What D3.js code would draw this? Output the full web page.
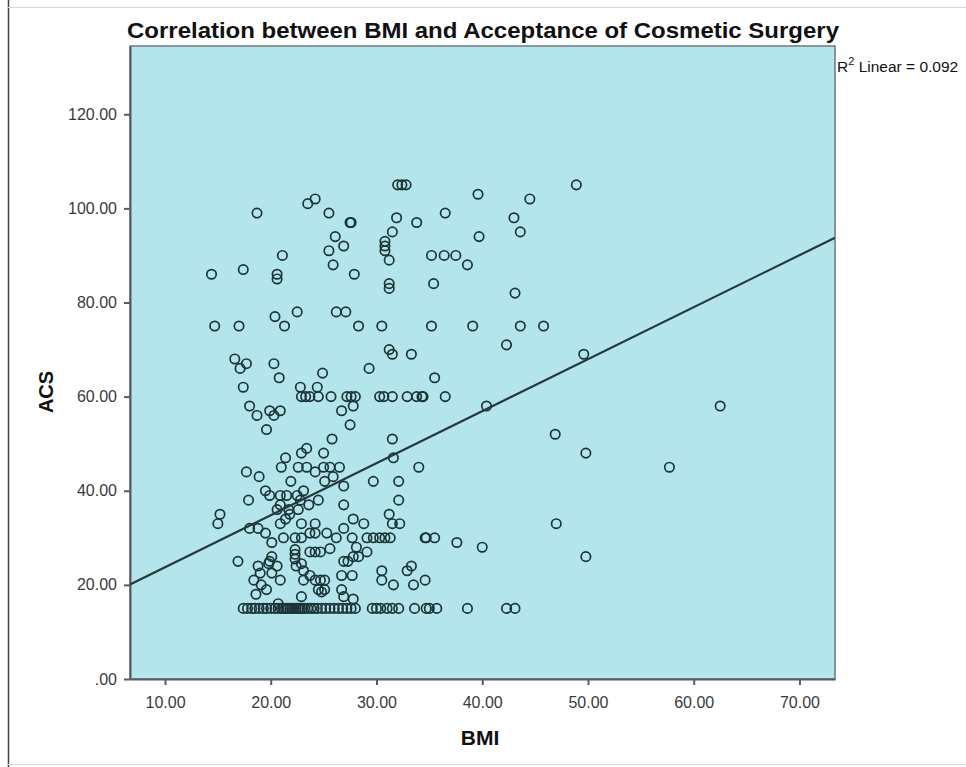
<!DOCTYPE html>
<html>
<head>
<meta charset="utf-8">
<script src="https://cdn.jsdelivr.net/npm/d3@7"></script>
<style>
  html, body { margin: 0; padding: 0; background: #ffffff; }
  svg { display: block; }
  text { font-family: "Liberation Sans", Arial, sans-serif; }
</style>
</head>
<body>
<svg id="chart" width="966" height="767"></svg>
<script>
// ---------------- data ----------------
const chartTitle = "Correlation between BMI and Acceptance of Cosmetic Surgery";
const xLabel = "BMI";
const yLabel = "ACS";

const xTicks = [10, 20, 30, 40, 50, 60, 70];
const xTickLabels = ["10.00", "20.00", "30.00", "40.00", "50.00", "60.00", "70.00"];
const yTicks = [0, 20, 40, 60, 80, 100, 120];
const yTickLabels = [".00", "20.00", "40.00", "60.00", "80.00", "100.00", "120.00"];

const xDomain = [6.69, 73.36];
const yDomain = [0, 134.5];

// fitted linear line (intercept, slope) and its R²
const fitIntercept = 12.7;
const fitSlope = 1.105;
const r2Value = "0.092";

// BMI values of the cases
const bmi = [
  // upper region
  18.7, 23.5, 24.2, 25.5, 27.5, 27.6, 32.0, 32.4, 32.8, 31.9, 33.8, 31.5, 30.8, 30.8, 30.8, 31.2,
  26.1, 26.9, 25.5, 21.1, 25.9, 14.4, 17.4, 20.6, 20.6, 27.9, 31.2, 31.2, 22.5, 20.4, 21.3, 14.7,
  17.0, 26.2, 27.1, 28.3, 30.5, 31.2, 31.5, 33.3, 16.6, 17.7, 17.1, 20.3, 20.8, 17.4, 24.9, 29.3,
  22.8, 24.4,
  // row at 60
  22.9, 23.3, 23.7, 24.5, 25.7, 27.2, 27.6, 28.0, 30.3, 30.7, 31.5, 32.9, 33.8, 34.3, 34.4, 36.5,
  18.0, 19.9, 20.9, 26.7, 27.8, 18.7, 20.3, 19.6, 27.5, 25.8, 31.5,
  // right side
  36.5, 39.6, 44.5, 48.9, 43.0, 43.6, 39.7, 35.2, 36.4, 37.5, 38.6, 35.4, 43.1, 35.2, 39.1, 43.6,
  45.8, 42.3, 49.6, 35.5, 40.4, 46.9, 49.8, 34.0, 47.0, 34.6, 34.7, 35.5, 37.6, 40.0, 49.8, 34.6,
  57.7, 62.5,
  // middle cluster
  17.7, 18.9, 21.9, 26.9, 29.7, 32.1, 23.4, 22.9, 25.0, 21.4, 31.6, 21.0, 22.6, 23.4, 24.2, 25.0,
  25.6, 26.5, 25.9, 25.1, 19.5, 19.9, 20.9, 21.5, 22.5, 23.1, 22.8, 23.6, 24.5, 17.9, 20.9, 21.7,
  22.6, 20.6, 26.9, 32.1, 15.2, 15.0, 31.2, 31.5, 32.2, 21.8, 21.4, 22.9, 18.0, 18.8, 19.5, 20.1,
  20.9, 24.2, 24.2, 27.8, 28.8, 21.2, 22.3, 22.9, 23.7, 25.3, 26.2, 26.9, 27.7, 29.1, 29.7, 30.3,
  30.8, 31.3, 16.9, 18.8, 19.8, 20.6, 20.1, 19.0, 18.4, 19.1, 19.6, 20.9, 20.1, 19.9, 22.3, 22.3,
  22.3, 22.4, 23.7, 24.2, 24.7, 22.9, 23.1, 23.7, 23.1, 24.2, 24.7, 25.1, 24.5, 25.1, 26.9, 27.8,
  28.1, 29.1, 27.7, 26.7, 26.7, 26.9, 30.5, 30.5, 31.6, 32.9, 33.3, 33.5, 20.7, 27.8, 25.6, 28.3,
  27.3, 18.6, 22.9, 24.8,
  // bottom row at 15
  17.4, 17.8, 18.2, 18.5, 18.9, 19.3, 19.6, 20.0, 20.4, 20.7, 21.0, 21.2, 21.4, 21.6, 21.8, 22.0,
  22.2, 22.4, 22.6, 22.8, 23.0, 23.2, 23.5, 23.8, 24.1, 24.4, 24.8, 25.2, 25.6, 26.0, 26.4, 26.8,
  27.2, 27.6, 28.0, 29.6, 30.0, 30.4, 31.0, 31.5, 32.1, 33.6, 34.7, 35.0, 35.7, 38.6, 42.3, 43.1
];

// ACS values of the same cases (same order)
const acs = [
  99, 101, 102, 99, 97, 97, 105, 105, 105, 98, 97, 95, 93, 92, 91, 89,
  94, 92, 91, 90, 88, 86, 87, 86, 85, 86, 84, 83, 78, 77, 75, 75,
  75, 78, 78, 75, 75, 70, 69, 69, 68, 67, 66, 67, 64, 62, 65, 66,
  62, 62,
  60, 60, 60, 60, 60, 60, 60, 60, 60, 60, 60, 60, 60, 60, 60, 60,
  58, 57, 57, 57, 58, 56, 56, 53, 54, 51, 51,
  99, 103, 102, 105, 98, 95, 94, 90, 90, 90, 88, 84, 82, 75, 75, 75,
  75, 71, 69, 64, 58, 52, 48, 45, 33, 30, 30, 30, 29, 28, 26, 21,
  45, 58,
  44, 43, 42, 41, 42, 42, 49, 48, 48, 47, 47, 45, 45, 45, 44, 45,
  45, 45, 43, 42, 40, 39, 39, 39, 39, 40, 38, 37, 38, 38, 37, 36,
  36, 36, 37, 38, 35, 33, 35, 33, 33, 35, 34, 33, 32, 32, 31, 29,
  33, 33, 31, 34, 33, 30, 30, 30, 31, 31, 30, 32, 30, 30, 30, 30,
  30, 30, 25, 24, 24.5, 24, 22.5, 22.5, 21, 20, 19, 21, 26, 25, 27.5, 26.5,
  25.5, 24, 27, 27, 27, 24.5, 23, 22, 21, 21, 21, 21, 19, 19, 25, 26,
  28, 27, 22, 22, 19, 17.5, 23, 21, 20, 23, 24, 20, 16, 17, 27.7, 26,
  25, 18, 17.5, 18.5,
  15, 15, 15, 15, 15, 15, 15, 15, 15, 15, 15, 15, 15, 15, 15, 15,
  15, 15, 15, 15, 15, 15, 15, 15, 15, 15, 15, 15, 15, 15, 15, 15,
  15, 15, 15, 15, 15, 15, 15, 15, 15, 15, 15, 15, 15, 15, 15, 15
];

// ---------------- drawing ----------------
const svg = d3.select("#chart");
const plot = { left: 130, right: 835, top: 46, bottom: 679 };

const x = d3.scaleLinear().domain(xDomain).range([plot.left, plot.right]);
const y = d3.scaleLinear().domain(yDomain).range([plot.bottom, plot.top]);

// outer frame lines of the picture
svg.append("line").attr("x1", 8.5).attr("x2", 8.5).attr("y1", 0).attr("y2", 767)
  .attr("stroke", "#444").attr("stroke-width", 1.5);
svg.append("line").attr("x1", 8).attr("x2", 966).attr("y1", 7.5).attr("y2", 7.5)
  .attr("stroke", "#d8d8d8").attr("stroke-width", 1);
svg.append("line").attr("x1", 8).attr("x2", 966).attr("y1", 764.5).attr("y2", 764.5)
  .attr("stroke", "#d8d8d8").attr("stroke-width", 1);

// plot background
svg.append("rect")
  .attr("x", plot.left).attr("y", plot.top)
  .attr("width", plot.right - plot.left).attr("height", plot.bottom - plot.top)
  .attr("fill", "#b4e5ec")
  .attr("stroke", "#6b7a7e").attr("stroke-width", 1.5);

svg.append("clipPath").attr("id", "clip")
  .append("rect")
  .attr("x", plot.left).attr("y", plot.top)
  .attr("width", plot.right - plot.left).attr("height", plot.bottom - plot.top);

// axes
const xAxis = d3.axisBottom(x).tickValues(xTicks)
  .tickFormat((d, i) => xTickLabels[i]).tickSize(6).tickPadding(12).tickSizeOuter(0);
const yAxis = d3.axisLeft(y).tickValues(yTicks)
  .tickFormat((d, i) => yTickLabels[i]).tickSize(6).tickPadding(7).tickSizeOuter(0);

const gx = svg.append("g").attr("transform", `translate(0,${plot.bottom})`).call(xAxis);
const gy = svg.append("g").attr("transform", `translate(${plot.left},0)`).call(yAxis);
[gx, gy].forEach(g => {
  g.select(".domain").attr("stroke", "#555d60").attr("stroke-width", 2);
  g.selectAll(".tick line").attr("stroke", "#555d60").attr("stroke-width", 2);
  g.selectAll(".tick text").attr("fill", "#3a3a3a").style("font-size", "16px")
    .style("font-family", "'Liberation Sans', Arial, sans-serif");
});

// points
svg.append("g").attr("clip-path", "url(#clip)")
  .selectAll("circle")
  .data(bmi.map((b, i) => [b, acs[i]]))
  .join("circle")
  .attr("cx", d => x(d[0]))
  .attr("cy", d => y(d[1]))
  .attr("r", 4.7)
  .attr("fill", "none")
  .attr("stroke", "#1c3537")
  .attr("stroke-width", 1.7);

// fit line
const lineGen = d3.line().x(d => x(d)).y(d => y(fitIntercept + fitSlope * d));
svg.append("path").attr("clip-path", "url(#clip)")
  .datum(xDomain)
  .attr("d", lineGen)
  .attr("fill", "none")
  .attr("stroke", "#25393b")
  .attr("stroke-width", 2.2);

// title
svg.append("text")
  .attr("x", 483).attr("y", 38)
  .attr("text-anchor", "middle")
  .attr("textLength", 712).attr("lengthAdjust", "spacingAndGlyphs")
  .style("font-size", "22px").style("font-weight", "bold").attr("fill", "#111")
  .text(chartTitle);

// R² label
const r2 = svg.append("text").attr("x", 837).attr("y", 72)
  .style("font-size", "15.5px").attr("fill", "#111");
r2.append("tspan").text("R");
r2.append("tspan").attr("dy", -7).style("font-size", "11px").text("2");
r2.append("tspan").attr("dy", 7).text(" Linear = " + r2Value);

// axis titles
svg.append("text")
  .attr("x", 480).attr("y", 745)
  .attr("text-anchor", "middle")
  .style("font-size", "21px").style("font-weight", "bold").attr("fill", "#111")
  .text(xLabel);

svg.append("text")
  .attr("transform", "translate(53,392) rotate(-90)")
  .attr("text-anchor", "middle")
  .style("font-size", "20px").style("font-weight", "bold").attr("fill", "#111")
  .text(yLabel);
</script>
</body>
</html>
